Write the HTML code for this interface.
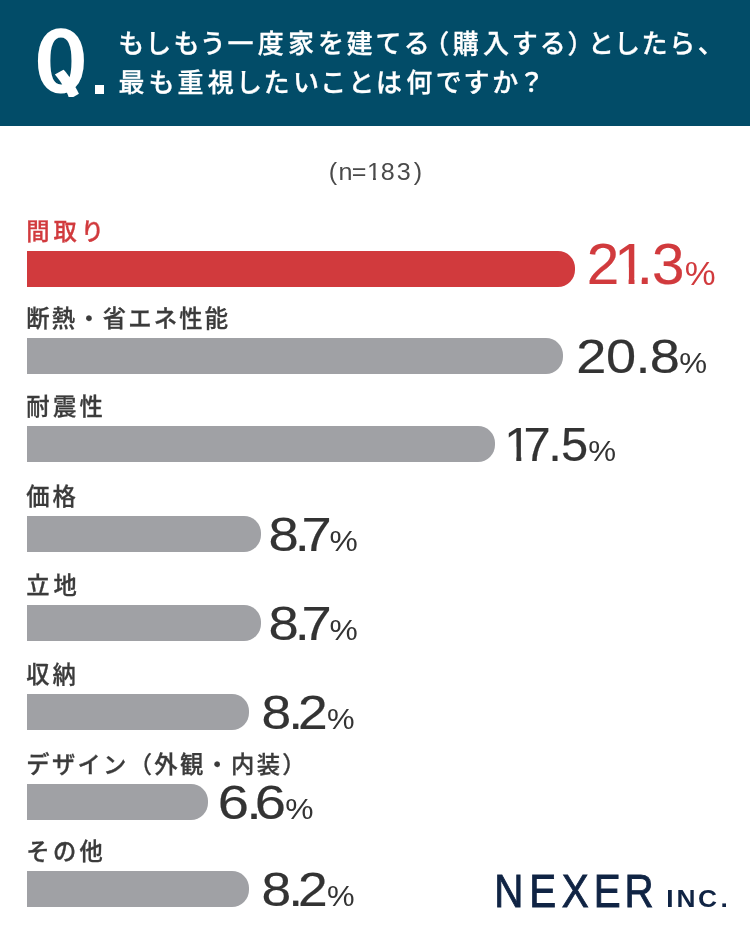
<!DOCTYPE html>
<html lang="ja">
<head>
<meta charset="utf-8">
<title>Q. もしもう一度家を建てる（購入する）としたら、最も重視したいことは何ですか？</title>
<style>
html,body{margin:0;padding:0;background:#fff;}
body{width:750px;height:950px;position:relative;overflow:hidden;font-family:"Liberation Sans","Noto Sans CJK JP",sans-serif;color:#3b3b3b;}
.abs{position:absolute;white-space:nowrap;line-height:1;}
#hdr{position:absolute;left:0;top:0;width:750px;height:126px;background:#024c68;}
.q{color:#fff;font-family:"IPAGothic","DejaVu Sans Condensed","Liberation Sans",sans-serif;font-weight:400;font-size:85px;left:0;top:0;transform-origin:0 0;transform:scaleX(1.22);-webkit-text-stroke:3px #fff;}
.qbox{position:absolute;left:34.8px;top:19.5px;width:70px;height:77.5px;overflow:hidden;}
.qdot{position:absolute;left:95px;top:85px;width:9px;height:9px;background:#fff;}
.hl{color:#fff;font-size:26px;font-weight:500;letter-spacing:4.25px;left:118.5px;font-feature-settings:"palt";-webkit-text-stroke:.3px #fff;}
.lab{font-size:23.3px;font-weight:500;letter-spacing:2.3px;left:26.3px;color:#3b3b3b;-webkit-text-stroke:.3px currentColor;}
.bar{position:absolute;left:27px;height:36px;background:#a0a1a5;border-radius:0 17px 17px 0;}
.red{color:#d13a3d;}
.bar.redb{background:#d13a3d;}
.ov{position:absolute;left:0;top:0;}
.ov text{font-family:"Liberation Sans","Noto Sans CJK JP",sans-serif;}
.ov .h1{font-size:26px;font-weight:500;font-feature-settings:"palt";fill:#fff;stroke:#fff;stroke-width:.3px;}
.ov .n{fill:#4a4a4a;}
.ov .num{fill:#333;stroke:#333;stroke-width:.2px;}
.ov .pct{fill:#333;}
.ov .num.r{fill:#d13a3d;stroke:#d13a3d;}
.ov .pct.r{fill:#d13a3d;}
.ov .logo{fill:#102444;stroke:#102444;stroke-width:.9px;}
.ov .inc{fill:#102444;font-weight:700;}
.ov rect{fill:#fff;}
</style>
</head>
<body>
<div id="hdr"></div>
<div class="qbox"><div class="abs q">Q</div></div><div class="qdot"></div>
<svg class="ov" width="750" height="126" viewBox="0 0 750 126"><text class="h1" y="52.5" x="118.5 147.3 173.6 201.6 227.5 257.7 288.0 318.2 346.5 376.7 404.9 435.4 452.7 483.0 513.2 541.0 568.5 588.8 616.0 642.2 671.2 698.0">もしもう一度家を建てる（購入する）としたら、</text></svg>
<div class="abs hl" style="top:69.5px">最も重視したいことは何ですか？</div>
<div class="abs lab red" style="top:220.5px;letter-spacing:3.95px">間取り</div>
<div class="bar redb" style="top:251px;width:548px"></div>
<div class="abs lab" style="top:307.5px;letter-spacing:2.2px">断熱・省エネ性能</div>
<div class="bar" style="top:338px;width:536px"></div>
<div class="abs lab" style="top:395.5px;letter-spacing:3.3px">耐震性</div>
<div class="bar" style="top:426px;width:468px"></div>
<div class="abs lab" style="top:485.5px;letter-spacing:2.8px">価格</div>
<div class="bar" style="top:516px;width:234px"></div>
<div class="abs lab" style="top:574.5px;letter-spacing:3.8px">立地</div>
<div class="bar" style="top:605px;width:234px"></div>
<div class="abs lab" style="top:663.5px;letter-spacing:3.0px">収納</div>
<div class="bar" style="top:694px;width:222px"></div>
<div class="abs lab" style="top:753.5px;letter-spacing:2.3px">デザイン（外観・内装）</div>
<div class="bar" style="top:784px;width:181px"></div>
<div class="abs lab" style="top:840.5px;letter-spacing:3.3px">その他</div>
<div class="bar" style="top:871px;width:222px"></div>
<svg class="ov" width="750" height="950" viewBox="0 0 750 950">
<text class="n" transform="scale(1.0209 1)" font-size="24.6" y="180.2" x="322.07 331.55 344.46 359.49 373.00 388.75 405.33">(n=183)</text>
<text class="num r" transform="scale(1.0348 1)" font-size="56.5" y="284.3" x="566.99 593.58 615.44 630.16">21.3</text>
<text class="pct r" transform="scale(1.0459 1)" font-size="33.2" y="284.6" x="654.70">%</text>
<text class="num" transform="scale(1.1358 1)" font-size="47.7" y="373.1" x="507.35 533.50 559.51 572.07">20.8</text>
<text class="pct" transform="scale(1.0719 1)" font-size="29.2" y="373.4" x="633.69">%</text>
<text class="num" transform="scale(1.0229 1)" font-size="47.7" y="461.1" x="493.07 511.69 535.95 548.42">17.5</text>
<text class="pct" transform="scale(1.0719 1)" font-size="29.2" y="461.4" x="548.80">%</text>
<text class="num" transform="scale(1.1392 1)" font-size="47.7" y="551.1" x="235.77 258.83 264.63">8.7</text>
<text class="pct" transform="scale(1.0887 1)" font-size="29.2" y="551.4" x="302.63">%</text>
<text class="num" transform="scale(1.1392 1)" font-size="47.7" y="640.1" x="235.77 258.83 264.63">8.7</text>
<text class="pct" transform="scale(1.0887 1)" font-size="29.2" y="640.4" x="302.63">%</text>
<text class="num" transform="scale(1.1198 1)" font-size="47.7" y="729.1" x="233.64 257.34 266.06">8.2</text>
<text class="pct" transform="scale(1.0636 1)" font-size="29.2" y="729.4" x="307.35">%</text>
<text class="num" transform="scale(1.1767 1)" font-size="47.7" y="819.1" x="185.00 209.22 216.53">6.6</text>
<text class="pct" transform="scale(1.0887 1)" font-size="29.2" y="819.4" x="262.03">%</text>
<text class="num" transform="scale(1.1198 1)" font-size="47.7" y="906.1" x="233.64 257.34 266.06">8.2</text>
<text class="pct" transform="scale(1.0636 1)" font-size="29.2" y="906.4" x="307.35">%</text>
<text class="logo" transform="scale(0.8604 1)" font-size="46.9" y="906.8" x="574.42 615.03 652.99 690.11 725.86">NEXER</text>
<text class="inc" transform="scale(1.1208 1)" font-size="23.5" y="906.6" x="594.50 603.52 622.76 642.92">INC.</text>
<rect x="366.4" y="172.8" width="6.6" height="8.2"/><rect x="375.9" y="176.8" width="4.7" height="4.2"/><rect x="617.0" y="267.4" width="11.6" height="17.8"/><rect x="634.5" y="278.5" width="7.2" height="6.6"/><rect x="505.6" y="446.8" width="10.7" height="15.1"/><rect x="521.3" y="455.9" width="8.6" height="6.0"/>
</svg>
</body>
</html>
